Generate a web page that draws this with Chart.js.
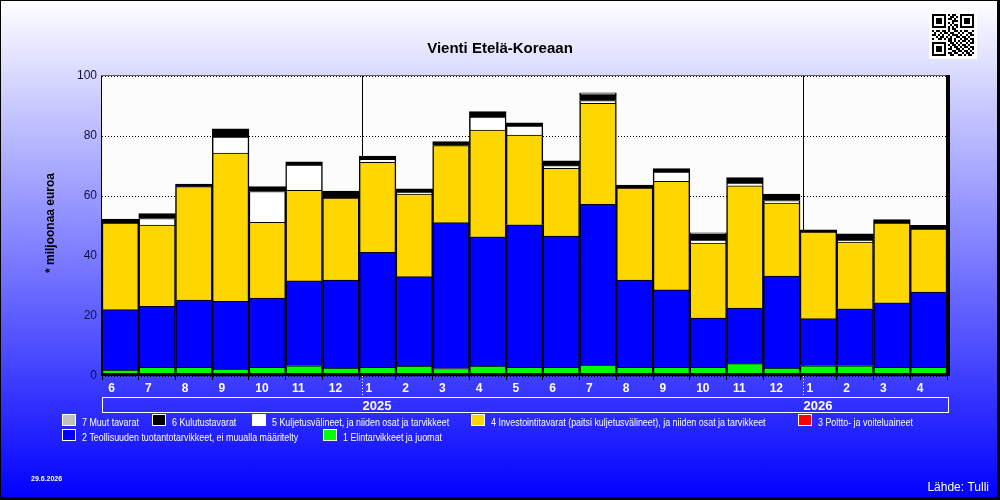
<!DOCTYPE html>
<html>
<head>
<meta charset="utf-8">
<script src="https://cdn.jsdelivr.net/npm/chart.js"></script>
<style>
body{margin:0;}
#kehys{position:relative;width:1000px;height:500px;background:linear-gradient(to bottom,#ffffff,#0000ff);}
canvas{position:absolute;left:0;top:0;}
</style>
</head>
<body>
<div id="kehys"><canvas id="kuvio" width="1000" height="500"></canvas></div>
<script>
const kuukaudet=["2024-06","2024-07","2024-08","2024-09","2024-10","2024-11","2024-12",
"2025-01","2025-02","2025-03","2025-04","2025-05","2025-06","2025-07","2025-08","2025-09","2025-10","2025-11","2025-12",
"2026-01","2026-02","2026-03","2026-04"];

const elintarvikkeet=[2.0,2.9,2.9,2.3,2.9,3.4,2.6, 2.9,3.3,2.5,3.3,2.9,2.9,3.6,2.9,2.9,2.9,4.1,2.6, 3.4,3.4,2.9,2.9];
const teollisuus=[20.1,20.3,22.4,22.6,23.1,28.3,29.4, 38.3,29.8,48.6,43.1,47.5,43.7,53.6,29.1,25.8,16.4,18.5,30.7, 15.7,19.0,21.5,25.1];
const polttoaineet=[0,0,0,0,0,0,0, 0,0,0,0,0,0,0,0,0,0,0,0, 0,0,0,0];
const investointi=[28.9,27.1,37.8,49.4,25.2,30.2,27.3, 30.0,27.5,25.7,35.6,29.9,22.6,33.7,30.6,36.2,25.0,40.8,24.3, 28.9,22.2,26.6,21.0];
const kuljetus=[0,2.2,0,5.3,10.3,8.4,0, 1.0,0.7,0,4.3,3.0,0.9,0.9,0,3.1,1.0,0.9,0.9, 0,0.7,0,0];
const kulutus=[1.3,1.6,0.9,2.8,1.6,1.1,2.3, 1.1,1.1,1.3,1.8,1.1,1.6,2.0,1.0,1.1,1.9,1.8,2.1, 0.7,2.1,1.1,1.2];
const muut=[0,0,0,0,0,0,0, 0,0,0,0,0,0,0.6,0,0,0.5,0,0, 0,0,0,0];

const yTicks=[0,20,40,60,80,100];
const vuodet=["2025","2026"];

const sarjat=[
{nimi:"1 Elintarvikkeet ja juomat",data:elintarvikkeet,vari:"#00ff00"},
{nimi:"2 Teollisuuden tuotantotarvikkeet, ei muualla määritelty",data:teollisuus,vari:"#0000ff"},
{nimi:"3 Poltto- ja voiteluaineet",data:polttoaineet,vari:"#ff0000"},
{nimi:"4 Investointitavarat (paitsi kuljetusvälineet), ja niiden osat ja tarvikkeet",data:investointi,vari:"#ffd700"},
{nimi:"5 Kuljetusvälineet, ja niiden osat ja tarvikkeet",data:kuljetus,vari:"#ffffff"},
{nimi:"6 Kulutustavarat",data:kulutus,vari:"#000000"},
{nimi:"7 Muut tavarat",data:muut,vari:"#c0c0c0"}
];

const fontti="'Liberation Sans', Arial, sans-serif";
Chart.defaults.font.family=fontti;

const koriste={
id:"koriste",
beforeDraw(chart){
let ctx=chart.ctx;
let a=chart.chartArea;
ctx.save();
ctx.fillStyle="#fcfcfc";
ctx.fillRect(a.left,a.top,a.right-a.left,a.bottom-a.top);
ctx.restore();
},
beforeDatasetsDraw(chart){
let ctx=chart.ctx;
let a=chart.chartArea;
let x=chart.scales.x;
ctx.save();
ctx.strokeStyle="#000";
ctx.lineWidth=1;
kuukaudet.forEach((k,i)=>{
if(k.endsWith("-01")){
let px=Math.round(x.getPixelForValue(i)-x.width/kuukaudet.length/2+3)+0.5;
ctx.beginPath();ctx.moveTo(px,a.top);ctx.lineTo(px,a.bottom);ctx.stroke();
}
});
ctx.restore();
},
afterDraw(chart){
let ctx=chart.ctx;
let a=chart.chartArea;
let x=chart.scales.x;
let leveys=x.width/kuukaudet.length;
ctx.save();

// kuva-alueen kehys
ctx.fillStyle="#000";
ctx.fillRect(a.left-1,a.top,1,a.bottom-a.top);
ctx.fillStyle="#606060";
ctx.fillRect(a.left-1,a.top-1,a.right-a.left+2,1);
ctx.fillStyle="#000";
ctx.fillRect(a.right-1,a.top-1,4,a.bottom-a.top+1);
ctx.fillRect(a.left-1,a.bottom-3,a.right-a.left+4,3);

// vuodet
ctx.strokeStyle="#fff";
ctx.lineWidth=1;
ctx.strokeRect(a.left+0.5,397.5,a.right-a.left+1,15);
ctx.fillStyle="#fff";
ctx.font="bold 13px "+fontti;
ctx.textBaseline="alphabetic";
ctx.textAlign="left";
let v=0;
kuukaudet.forEach((k,i)=>{
if(k.endsWith("-01")){
let px=Math.round(x.getPixelForValue(i)-leveys/2+3)+0.5;
ctx.setLineDash([1,2]);
ctx.beginPath();ctx.moveTo(px,a.bottom);ctx.lineTo(px,397);ctx.stroke();
ctx.setLineDash([]);
ctx.fillText(vuodet[v],px,409.5);
v++;
}
});

// otsikko
ctx.fillStyle="#000";
ctx.textAlign="center";
ctx.textBaseline="middle";
ctx.font="bold 15px "+fontti;
ctx.fillText("Vienti Etelä-Koreaan",500,49);

// y-akselin nimi
ctx.save();
ctx.translate(51,223);
ctx.rotate(-Math.PI/2);
ctx.font="bold 12px "+fontti;
ctx.fillText("* miljoonaa euroa",0,0);
ctx.restore();

// selite
let rivit=[[6,5,4,3,2],[1,0]];
let paikat=[[62,152,252,471,798],[62,323]];
ctx.font="10px "+fontti;
ctx.textAlign="left";
ctx.textBaseline="alphabetic";
rivit.forEach((rivi,r)=>{
let y=414+r*15;
rivi.forEach((s,j)=>{
let px=paikat[r][j];
ctx.fillStyle=sarjat[s].vari;
ctx.fillRect(px,y,14,12);
ctx.strokeStyle="#fff";
ctx.strokeRect(px+0.5,y+0.5,13,11);
ctx.fillStyle="#fff";
let w=ctx.measureText(sarjat[s].nimi).width*0.89;
ctx.fillText(sarjat[s].nimi,px+20,y+12,w);
});
});

// päiväys ja lähde
ctx.font="bold 7px "+fontti;
ctx.fillText("29.6.2026",31,481);
ctx.font="12px "+fontti;
ctx.textAlign="right";
ctx.fillText("Lähde: Tulli",989,491);

// QR-koodi
let qr=[
"111111101011001111111",
"100000100110101000001",
"101110101101001011101",
"101110100011101011101",
"101110101010001011101",
"100000100101101000001",
"111111101010101111111",
"000000001011000000000",
"101101101001101011001",
"010010110110010100110",
"110101001011101001011",
"001011010100110110100",
"100110101101001011011",
"000000001101010110101",
"111111100110101001011",
"100000101011010110100",
"101110100101101011011",
"101110101100110100101",
"101110100011011011010",
"100000101101100101101",
"111111100110011010110"
];
ctx.fillStyle="#fff";
ctx.fillRect(929,11,48,48);
ctx.fillStyle="#000";
qr.forEach((rivi,r)=>{
for(let c=0;c<rivi.length;c++){
if(rivi[c]==="1")ctx.fillRect(932+c*2,14+r*2,2,2);
}
});

// ulkokehys
ctx.strokeStyle="#000";
ctx.lineWidth=1;
ctx.strokeRect(0.5,0.5,997,497);
ctx.fillStyle="#000";
ctx.fillRect(997,0,3,500);
ctx.fillRect(0,497,1000,3);
ctx.restore();
}
};

new Chart(document.getElementById("kuvio"),{
type:"bar",
data:{
labels:kuukaudet,
datasets:sarjat.map(s=>({
label:s.nimi,
data:s.data,
backgroundColor:s.vari,
borderColor:"#000",
borderWidth:{top:1,left:1.5,right:1.5,bottom:0},
borderSkipped:false,
barPercentage:1,
categoryPercentage:1
}))
},
options:{
responsive:false,
animation:false,
devicePixelRatio:1,
layout:{padding:{top:76,right:53,left:0,bottom:0}},
plugins:{legend:{display:false},title:{display:false},tooltip:{enabled:false}},
scales:{
x:{
stacked:true,
offset:true,
grid:{offset:true,drawOnChartArea:false,color:"#000",tickLength:4},
border:{display:false},
ticks:{
color:"#fff",
font:{size:12,weight:"bold"},
align:"start",
labelOffset:-12,
padding:1,
autoSkip:false,
maxRotation:0,
callback:function(val,i){return String(Number(kuukaudet[i].split("-")[1]));}
},
afterFit(scale){scale.height=124;}
},
y:{
stacked:true,
min:0,
max:100,
afterBuildTicks(scale){scale.ticks=yTicks.map(t=>({value:t}));},
grid:{color:"#000",drawTicks:false},
border:{display:false,dash:[1,2]},
ticks:{color:"#101040",font:{size:12},padding:5},
afterFit(scale){scale.width=102;}
}
}
},
plugins:[koriste]
});
</script>
</body>
</html>
